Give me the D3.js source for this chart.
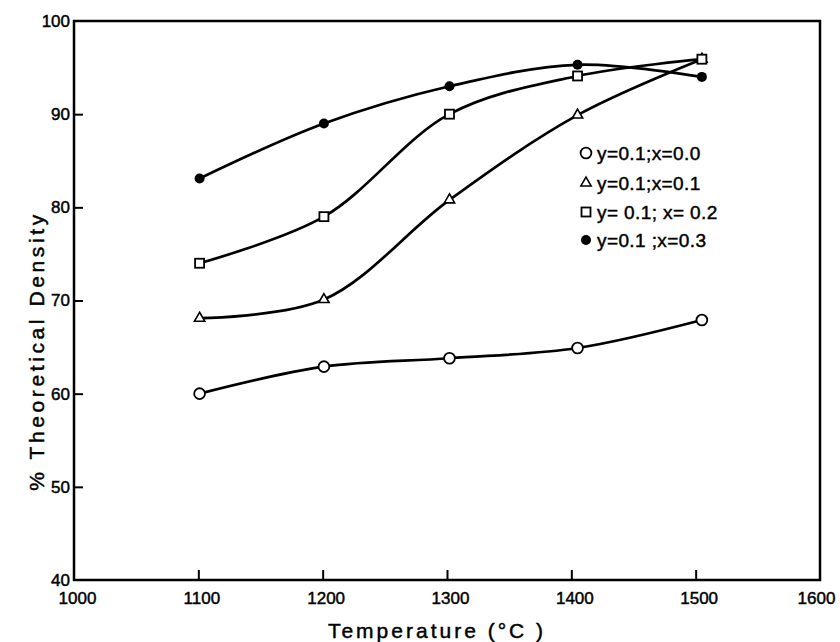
<!DOCTYPE html>
<html><head><meta charset="utf-8">
<script src="https://cdn.jsdelivr.net/npm/d3@7"></script>
<style>body{margin:0;background:#fff}svg{display:block}text{font-family:"Liberation Sans",Arial,sans-serif;fill:#000;stroke:#000;stroke-width:0.45px}</style>
</head><body><svg id="c" width="840" height="642"></svg>
<script>
// temperatures as placed in the figure (nominal 1100..1500 °C)
const temps = [1101, 1201, 1302, 1405, 1505];
const s00 = [60.0, 62.9, 63.8, 64.9, 67.9];   // circle  y=0.1;x=0.0
const s01 = [68.1, 70.1, 80.8, 89.9, 95.9];   // triangle y=0.1;x=0.1
const s02 = [74.0, 79.0, 90.0, 94.1, 95.9];   // square  y=0.1;x=0.2
const s03 = [83.1, 89.0, 93.0, 95.3, 94.0];   // filled  y=0.1;x=0.3
const xTicks = [1000, 1100, 1200, 1300, 1400, 1500, 1600];
const yTicks = [40, 50, 60, 70, 80, 90, 100];
const legendLabels = ["y=0.1;x=0.0", "y=0.1;x=0.1", "y= 0.1; x= 0.2", "y=0.1 ;x=0.3"];
const markers = ["circle", "triangle", "square", "filled"];

const svg = d3.select("#c");
const L = 74, R = 820, T = 21, B = 580;
const x = d3.scaleLinear().domain([1000, 1600]).range([L, R]);
const y = d3.scaleLinear().domain([40, 100]).range([B, T]);

// frame
svg.append("rect").attr("x", L).attr("y", T).attr("width", R - L).attr("height", B - T)
  .attr("fill", "none").attr("stroke", "#000").attr("stroke-width", 2.5);

const xa = svg.append("g").attr("transform", `translate(0,${B})`)
  .call(d3.axisBottom(x).tickValues(xTicks).tickFormat(d3.format("d")).tickSizeInner(-10).tickSizeOuter(0).tickPadding(12));
const ya = svg.append("g").attr("transform", `translate(${L},0)`)
  .call(d3.axisLeft(y).tickValues(yTicks).tickSizeInner(-9).tickSizeOuter(0).tickPadding(4));
[xa, ya].forEach(g => {
  g.select(".domain").remove();
  g.selectAll(".tick line").attr("stroke", "#000").attr("stroke-width", 2);
  g.selectAll(".tick text").style("font-size", "17px").attr("fill", "#000");
});
xa.selectAll(".tick line").filter(d => d === 1000 || d === 1600).remove();
ya.selectAll(".tick line").filter(d => d === 40 || d === 100).remove();
xa.selectAll(".tick text").attr("dx", d => d === 1600 ? -4 : 3);

// titles
svg.append("text").attr("x", 437).attr("y", 638).attr("text-anchor", "middle")
  .style("font-size", "21px").style("letter-spacing", "3px").text("Temperature (°C )");
svg.append("text").attr("transform", "translate(44,351) rotate(-90)").attr("text-anchor", "middle")
  .style("font-size", "21px").style("letter-spacing", "3.6px").text("% Theoretical Density");

const line = d3.line().x(d => x(d[0])).y(d => y(d[1])).curve(d3.curveCatmullRom.alpha(0.5));
const series = [s00, s01, s02, s03];
series.forEach(s => {
  svg.append("path").attr("d", line(temps.map((t, i) => [t, s[i]])))
    .attr("fill", "none").attr("stroke", "#000").attr("stroke-width", 2.7);
});

function drawMarker(g, type, cx, cy) {
  if (type === "circle") g.append("circle").attr("cx", cx).attr("cy", cy).attr("r", 5.4).attr("fill", "#fff").attr("stroke", "#000").attr("stroke-width", 1.8);
  else if (type === "filled") g.append("circle").attr("cx", cx).attr("cy", cy).attr("r", 5).attr("fill", "#000");
  else if (type === "square") g.append("rect").attr("x", cx - 4.5).attr("y", cy - 4.5).attr("width", 9).attr("height", 9).attr("fill", "#fff").attr("stroke", "#000").attr("stroke-width", 1.8);
  else if (type === "triangle") g.append("path").attr("d", d3.symbol(d3.symbolTriangle, 46)()).attr("transform", `translate(${cx},${cy})`).attr("fill", "#fff").attr("stroke", "#000").attr("stroke-width", 1.6);
}
const mg = svg.append("g");
series.forEach((s, k) => {
  temps.forEach((t, i) => drawMarker(mg, markers[k], x(t), y(s[i])));
});

// legend
const lg = svg.append("g");
const rowsY = [153, 183, 212, 240];
legendLabels.forEach((lab, k) => {
  drawMarker(lg, markers[k], 586, rowsY[k]);
  lg.append("text").attr("x", 597).attr("y", rowsY[k]).attr("dy", "0.36em")
    .style("font-size", "19px").style("letter-spacing", "0.4px").text(lab);
});
</script></body></html>
